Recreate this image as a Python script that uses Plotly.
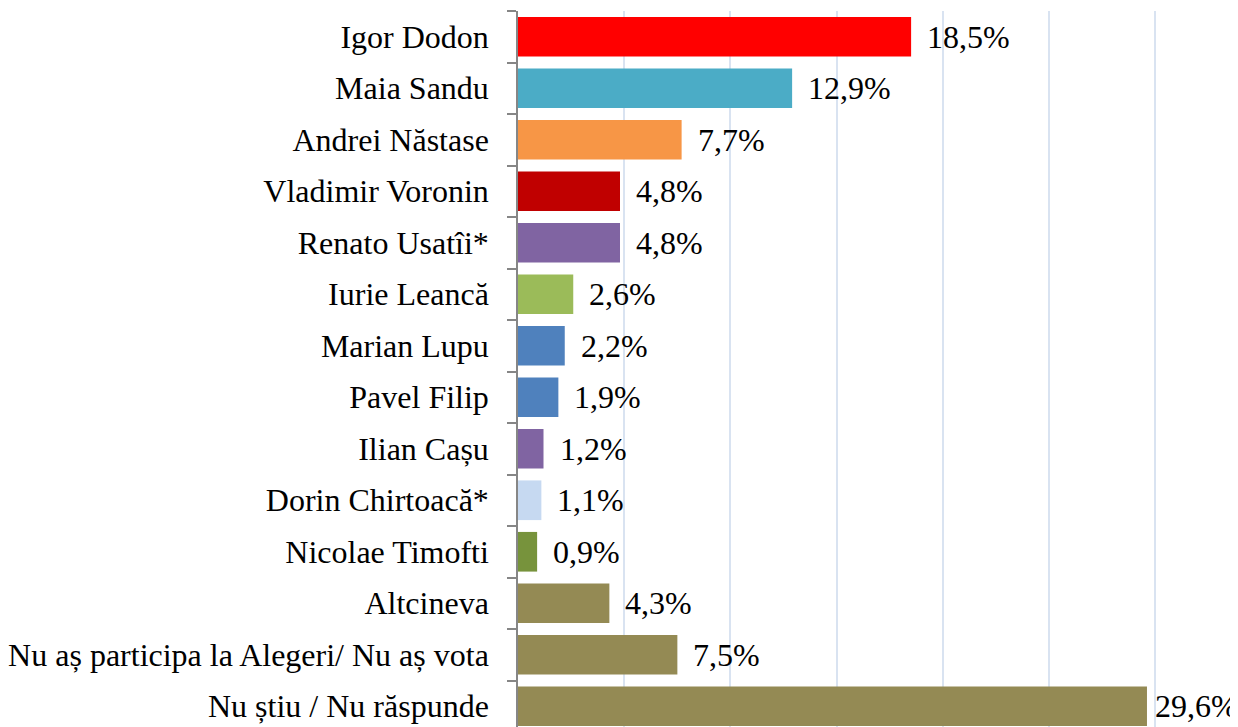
import plotly.graph_objects as go

categories = [
    "Igor Dodon", "Maia Sandu", "Andrei Năstase", "Vladimir Voronin",
    "Renato Usatîi*", "Iurie Leancă", "Marian Lupu", "Pavel Filip",
    "Ilian Cașu", "Dorin Chirtoacă*", "Nicolae Timofti", "Altcineva",
    "Nu aș participa la Alegeri/ Nu aș vota", "Nu știu / Nu răspunde",
]
values = [18.5, 12.9, 7.7, 4.8, 4.8, 2.6, 2.2, 1.9, 1.2, 1.1, 0.9, 4.3, 7.5, 29.6]
labels = ["18,5%", "12,9%", "7,7%", "4,8%", "4,8%", "2,6%", "2,2%", "1,9%",
          "1,2%", "1,1%", "0,9%", "4,3%", "7,5%", "29,6%"]
colors = ["#FF0000", "#4BACC6", "#F79646", "#C00000", "#8064A2", "#9BBB59",
          "#4F81BD", "#4F81BD", "#8064A2", "#C6D9F1", "#77933C", "#948A54",
          "#948A54", "#948A54"]
label_shift = [14] * 13 + [6]

FONT = "Liberation Serif, Times New Roman, serif"
FS = 32

fig = go.Figure()
fig.add_trace(go.Bar(
    y=categories, x=values, orientation="h",
    marker=dict(color=colors, line=dict(width=0)),
    hoverinfo="x+y",
))

for c, v, t, s in zip(categories, values, labels, label_shift):
    fig.add_annotation(x=v, y=c, text=t, showarrow=False, xanchor="left",
                       yanchor="middle", xshift=s,
                       font=dict(family=FONT, size=FS, color="#000000"))

fig.update_layout(
    width=1238, height=727,
    margin=dict(l=510, r=0, t=3, b=0, pad=0),
    paper_bgcolor="white", plot_bgcolor="white",
    bargap=0.23,
    showlegend=False,
    font=dict(family=FONT, size=FS, color="#000000"),
)
fig.update_xaxes(
    range=[0, 34.26], dtick=5, showgrid=True, gridcolor="#D9E3F1", gridwidth=1.5,
    showticklabels=False, zeroline=False, showline=False, ticks="",
    automargin=False,
)
fig.update_yaxes(
    type="category", categoryorder="array", categoryarray=categories,
    range=[13.558, -0.5],
    showline=True, linecolor="#868686", linewidth=1.5,
    ticks="outside", tickson="boundaries", ticklen=9, tickcolor="#868686", tickwidth=1.5,
    ticklabelstandoff=21,
    tickfont=dict(family=FONT, size=FS, color="#000000"),
    showgrid=False, automargin=False,
)

fig.write_html("out.html")
